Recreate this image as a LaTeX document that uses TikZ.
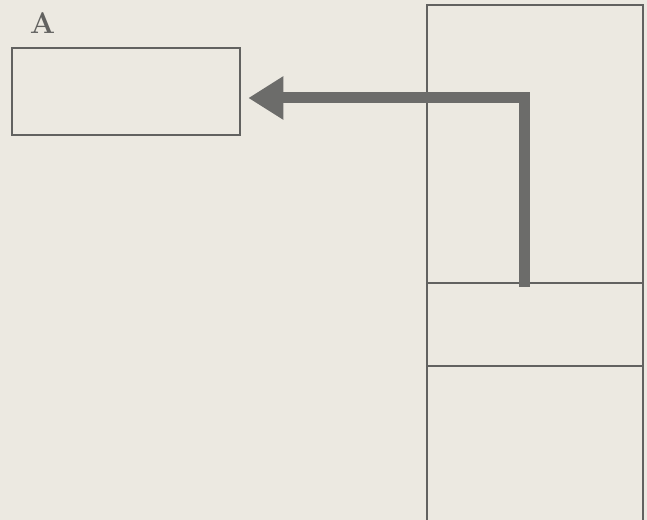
\documentclass[tikz,border=0pt]{standalone}
\usepackage{xcolor}
\usetikzlibrary{arrows.meta,positioning}

\definecolor{paper}{RGB}{236,233,225}
\definecolor{ink}{RGB}{98,98,96}
\definecolor{flowgray}{RGB}{108,108,106}

\begin{document}
\begin{tikzpicture}[
      x=0.02cm, y=-0.02cm,
      blk/.style={
        draw=ink,
        line width=1.5pt,
        minimum width=4.56cm,
        minimum height=1.74cm,
        inner sep=0pt
      },
      sect/.style={
        draw=ink,
        line width=1.4pt,
        minimum width=4.32cm,
        inner sep=0pt,
        outer sep=0pt
      },
      wall/.style={draw=ink, line width=1.4pt},
      flow/.style={-{Triangle[length=0.7cm, width=0.82cm]}, line width=0.22cm,
        draw=flowgray, line join=miter},
      lbl/.style={font=\fontsize{17}{20}\selectfont\bfseries, text=ink}
    ]
    \fill[paper] (0,0) rectangle (647,520);
    \useasboundingbox (0,0) rectangle (647,520);

    \node[blk] (boxA) at (126,91.5) {};
    \node[lbl] (labA) at (42.5,23) {A};

    \node[sect, minimum height=5.56cm] (upper) at (535,144) {};
    \node[sect, minimum height=1.66cm, below=0pt of upper] (middle) {};
    \draw[wall] (middle.south west) -- ++(0,170);
    \draw[wall] (middle.south east) -- ++(0,170);

    \coordinate (src) at (524.5,287);
    \coordinate (bend) at (524.5,98);
    \draw[flow, shorten >=0.14cm] (src) -- (bend) -- (bend -| boxA.east);
  \end{tikzpicture}
\end{document}
